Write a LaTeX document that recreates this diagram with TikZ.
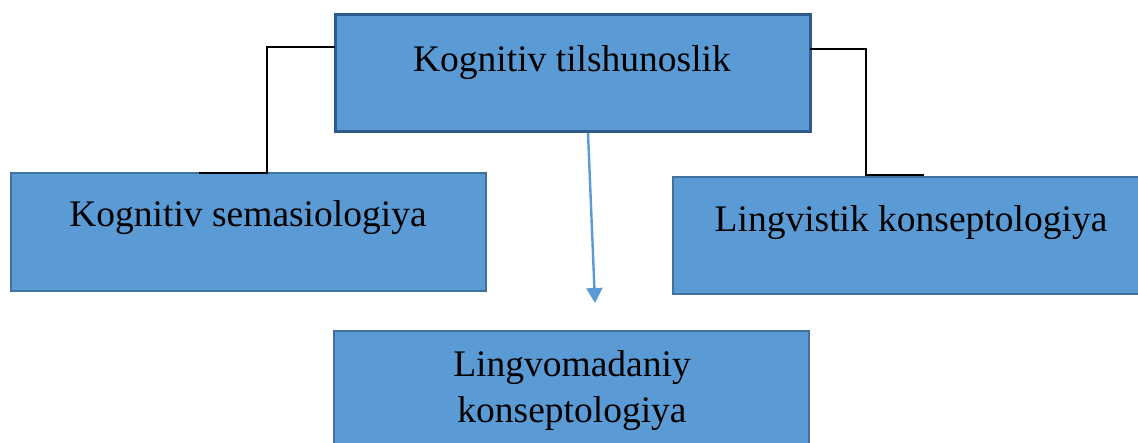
\documentclass[tikz,border=0pt]{standalone}
\usepackage{fontspec}
\setmainfont{Liberation Serif}
\usetikzlibrary{arrows.meta}
\definecolor{boxfill}{HTML}{5B9BD5}
\definecolor{boxline}{HTML}{41719C}
\definecolor{topline}{HTML}{2E5A8C}
\tikzset{
  box/.style={draw=boxline, line width=2pt, fill=boxfill},
  topbox/.style={draw=topline, line width=3pt, fill=boxfill},
  lbl/.style={anchor=base, inner sep=0pt, font=\fontsize{37.5}{46}\selectfont},
  conn/.style={draw=black, line width=1.2pt},
  arr/.style={draw=boxfill, line width=2.4pt, -{Triangle[length=15pt,width=16pt]}}
}
\begin{document}
\begin{tikzpicture}[x=1pt,y=-1pt]
\useasboundingbox (0,0) rectangle (1138,443);
\fill[white] (0,0) rectangle (1138,443);
% boxes
\path[topbox] (335,15) rectangle (810,132);
\path[box] (11,173) rectangle (486,291);
\path[box] (673,177) rectangle (1142,294);
\path[box] (334,331) rectangle (809,460);
\node[minimum width=475pt, minimum height=117pt, inner sep=0pt] (top) at (572.5,73.5) {};
\node[minimum width=475pt, minimum height=118pt, inner sep=0pt] (left) at (248.5,232) {};
\node[minimum width=469pt, minimum height=117pt, inner sep=0pt] (right) at (907.5,235.5) {};
\node[minimum width=475pt, minimum height=129pt, inner sep=0pt] (bottom) at (571.5,395.5) {};
% texts
\node[lbl] (toptxt) at (572,72) {Kognitiv tilshunoslik};
\node[lbl] (lefttxt) at (248,227) {Kognitiv semasiologiya};
\node[lbl] (righttxt) at (911,232) {Lingvistik konseptologiya};
\node[lbl] (bottxt1) at (572,377) {Lingvomadaniy};
\node[lbl] (bottxt2) at (572,423) {konseptologiya};
% connectors
\coordinate (lend) at (199,173);
\coordinate (rend) at (924,175);
\draw[conn] (top.west |- 0,47) -| (267,173) -- (lend);
\draw[conn] (top.east |- 0,49) -| (866,175) -- (rend);
\coordinate (atip) at (595,303);
\draw[arr] (588,133) -- (atip);
\end{tikzpicture}
\end{document}
